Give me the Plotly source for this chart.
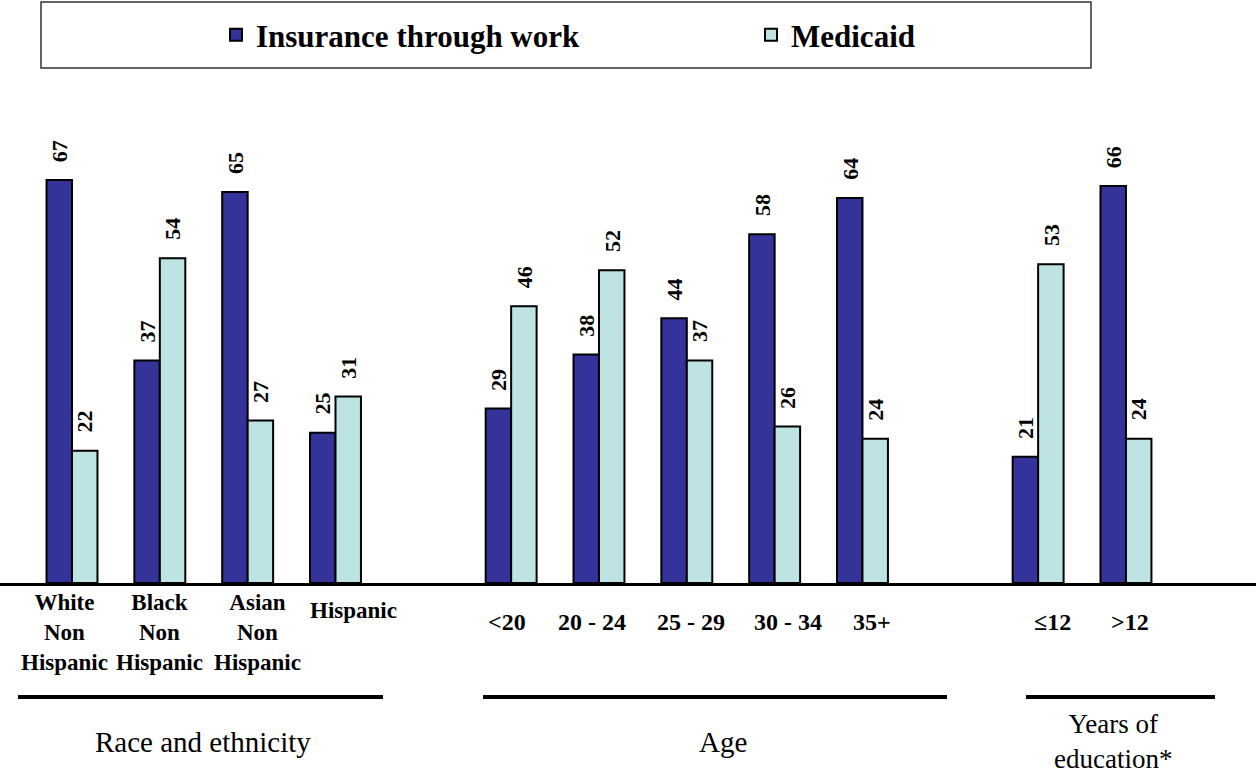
import plotly.graph_objects as go

# ---------------- data ----------------
categories = ["White Non Hispanic", "Black Non Hispanic", "Asian Non Hispanic", "Hispanic",
              "<20", "20 - 24", "25 - 29", "30 - 34", "35+", "≤12", ">12"]
label_lines = [["White", "Non", "Hispanic"], ["Black", "Non", "Hispanic"],
               ["Asian", "Non", "Hispanic"], ["Hispanic"],
               ["&lt;20"], ["20 - 24"], ["25 - 29"], ["30 - 34"], ["35+"],
               ["≤12"], ["&gt;12"]]
slots = [0, 1, 2, 3, 5, 6, 7, 8, 9, 11, 12]
work = [67, 37, 65, 25, 29, 38, 44, 58, 64, 21, 66]
medicaid = [22, 54, 27, 31, 46, 52, 37, 26, 24, 53, 24]
series_names = ["Insurance through work", "Medicaid"]
group_titles = [["Race and ethnicity"], ["Age"], ["Years of", "education*"]]

# ---------------- style / layout ----------------
W, H = 1256, 776
M_T, M_B = 100, 193
PLOT_H = H - M_T - M_B
SLOT_PX = 87.83
X0_PX = 72
x_range = [-X0_PX / SLOT_PX, (W - X0_PX) / SLOT_PX]
Y_MAX = PLOT_H / 6.015
BARGAP = 0.42
OFF = (1 - BARGAP) / 4
DARK = "#333399"
LIGHT = "#BDE3E3"
SERIF = "Liberation Serif"
label_xshift = [-8, 0, 10, 18, -4, -7, 4, 13, 10, 14, 4]


def py(px):
    return (H - M_B - px) / PLOT_H


fig = go.Figure()
fig.add_bar(x=slots, y=work, name=series_names[0], legend="legend",
            marker=dict(color=DARK, line=dict(color="black", width=2)))
fig.add_bar(x=slots, y=medicaid, name=series_names[1], legend="legend2",
            marker=dict(color=LIGHT, line=dict(color="black", width=2)))

ann = []
# value labels
for s, v in zip(slots, work):
    ann.append(dict(x=s - OFF, y=v, text=f"<b>{v}</b>", textangle=-90, showarrow=False,
                    xanchor="center", yanchor="bottom", yshift=16,
                    font=dict(family=SERIF, size=22, color="black")))
for s, v in zip(slots, medicaid):
    ann.append(dict(x=s + OFF, y=v, text=f"<b>{v}</b>", textangle=-90, showarrow=False,
                    xanchor="center", yanchor="bottom", yshift=16,
                    font=dict(family=SERIF, size=22, color="black")))

# category labels
for i, (s, lines) in enumerate(zip(slots, label_lines)):
    if len(lines) > 1:
        yc, fs = 632, 23
    elif i < 4:
        yc, fs = 610, 23
    else:
        yc, fs = 622, 24
    ann.append(dict(x=s, xref="x", y=py(yc), yref="paper",
                    text="<br>".join(f"<b>{ln}</b>" for ln in lines), showarrow=False,
                    xanchor="center", yanchor="middle", xshift=label_xshift[i], borderpad=0,
                    font=dict(family=SERIF, size=fs, color="black")))

# group titles
title_x = [203, 723, 1113]
title_y = [742, 742, 741]
title_fs = [29, 29, 27]
for lines, tx, ty, fs in zip(group_titles, title_x, title_y, title_fs):
    ann.append(dict(x=tx / W, xref="paper", y=py(ty), yref="paper", text="<br>".join(lines),
                    showarrow=False, xanchor="center", yanchor="middle", borderpad=0,
                    font=dict(family=SERIF, size=fs, color="black")))

shapes = []
# group underlines
for x0, x1 in [(18, 383), (483, 947), (1026, 1215)]:
    shapes.append(dict(type="line", xref="paper", yref="paper", x0=x0 / W, x1=x1 / W,
                       y0=py(697), y1=py(697), line=dict(color="black", width=4)))
# legend box
shapes.append(dict(type="rect", xref="paper", yref="paper", x0=41 / W, x1=1091 / W,
                   y0=py(68), y1=py(2), line=dict(color="#333333", width=1.5)))

legend_common = dict(orientation="h", xanchor="left", yref="container", y=1 - 35 / H, yanchor="middle",
                     font=dict(family=SERIF, size=31, color="black", weight="bold"),
                     bgcolor="rgba(0,0,0,0)", itemclick=False, itemdoubleclick=False)

fig.update_layout(
    width=W, height=H,
    margin=dict(l=0, r=0, t=M_T, b=M_B, pad=0),
    paper_bgcolor="white", plot_bgcolor="white",
    barmode="group", bargap=BARGAP, bargroupgap=0,
    showlegend=True,
    legend=dict(x=216 / W, **legend_common),
    legend2=dict(x=751 / W, **legend_common),
    xaxis=dict(range=x_range, showticklabels=False, ticks="", showgrid=False, zeroline=False,
               showline=True, linecolor="black", linewidth=3, fixedrange=True),
    yaxis=dict(range=[0, Y_MAX], visible=False, showgrid=False, zeroline=False, fixedrange=True),
    annotations=ann, shapes=shapes,
)

fig.write_html("out.html", config={"displayModeBar": False},
               post_script="document.body.style.margin='0';")
